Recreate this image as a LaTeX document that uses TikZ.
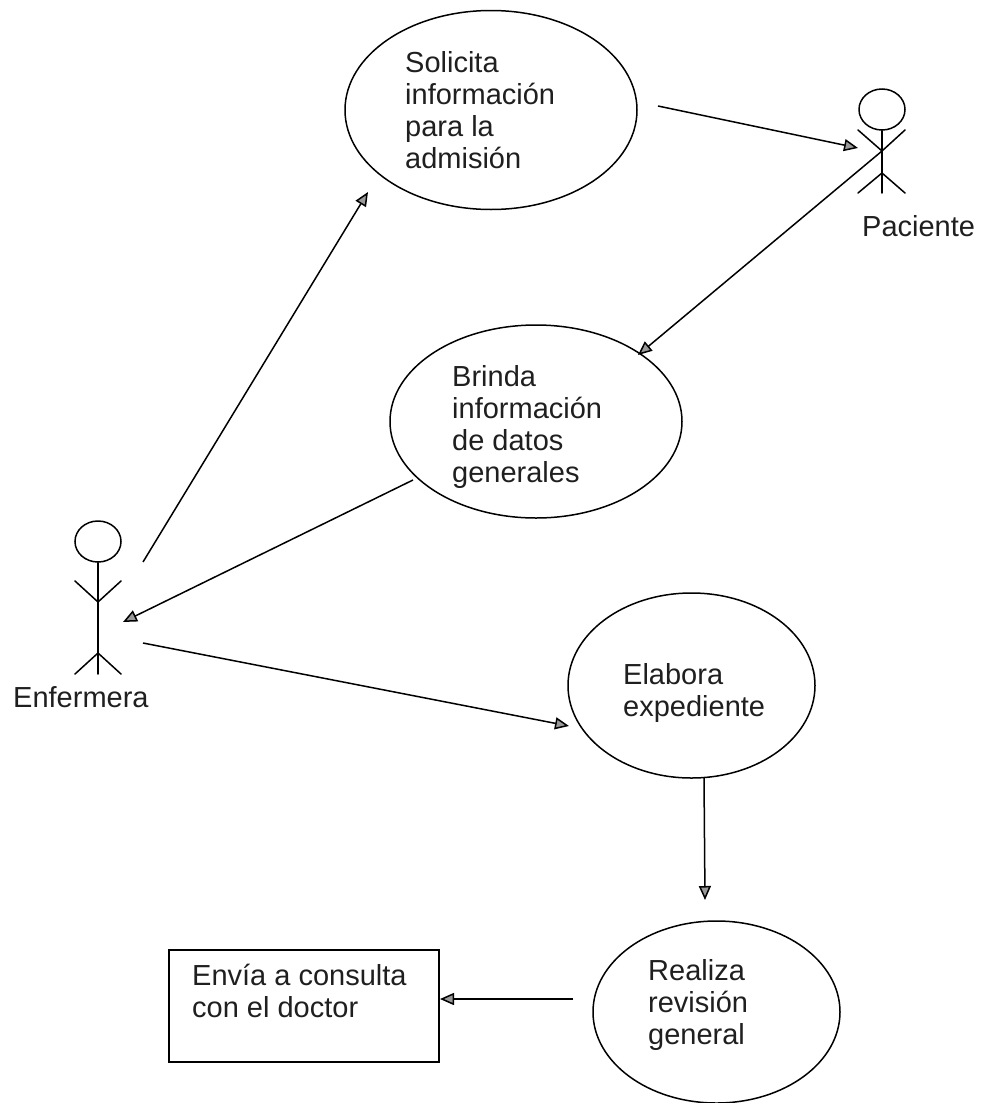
\documentclass[tikz,border=0pt]{standalone}
\usepackage{fontspec}
\setmainfont{Liberation Sans}
\usetikzlibrary{arrows.meta,shapes.geometric}
\tikzset{
  usecase/.style={draw=black,line width=1.5pt,ellipse,inner sep=0pt},
  label text/.style={font=\fontsize{29}{32}\selectfont,align=left,inner sep=0pt,anchor=base west,text=black!88},
  link/.style={line width=1.5pt,-{Triangle[length=14pt,width=12pt,fill=black!40,line width=1.5pt]}},
  figure line/.style={line width=1.5pt,line cap=round}
}
\begin{document}
\begin{tikzpicture}[x=1pt,y=-1pt]
\useasboundingbox (0,0) rectangle (981,1103);
% use-case ellipses
\node[usecase,minimum width=292pt,minimum height=199pt] (solicita) at (491,110) {};
\node[usecase,minimum width=292pt,minimum height=193pt] (brinda) at (536,421.5) {};
\node[usecase,minimum width=247pt,minimum height=185pt] (elabora) at (691.5,685.5) {};
\node[usecase,minimum width=247pt,minimum height=182pt] (realiza) at (716.5,1012) {};
\node[draw=black,line width=1.5pt,minimum width=270pt,minimum height=112pt,inner sep=0pt] (envia) at (304,1006) {};
% texts
\node[label text] (tsol) at (405,168) {Solicita\\información\\para la\\admisión};
\node[label text] (tbri) at (452,482) {Brinda\\información\\de datos\\generales};
\node[label text] (tela) at (623,716) {Elabora\\expediente};
\node[label text] (trea) at (648,1044) {Realiza\\revisión\\general};
\node[label text] (tenv) at (192,1017) {Envía a consulta\\con el doctor};
\node[label text] (tpac) at (862,236) {Paciente};
\node[label text] (tenf) at (13,707) {Enfermera};
% Paciente actor
\node[usecase,minimum width=46pt,minimum height=41pt] (phead) at (882,109.5) {};
\coordinate (pneck) at (882,151);
\coordinate (pfork) at (882,173);
\coordinate (pbase) at (882,193);
\coordinate (parml) at (858,130);
\coordinate (parmr) at (905,130);
\coordinate (pfootl) at (858,193);
\coordinate (pfootr) at (905,193);
\draw[figure line] (phead.south) -- (pbase);
\draw[figure line] (parml) -- (pneck) -- (parmr);
\draw[figure line] (pfootl) -- (pfork) -- (pfootr);
% Enfermera actor
\node[usecase,minimum width=46pt,minimum height=41pt] (ehead) at (98,541.5) {};
\coordinate (eneck) at (98,602);
\coordinate (efork) at (98,653);
\coordinate (ebase) at (98,674);
\coordinate (earml) at (75,581);
\coordinate (earmr) at (121,581);
\coordinate (efootl) at (75,674);
\coordinate (efootr) at (121,674);
\draw[figure line] (ehead.south) -- (ebase);
\draw[figure line] (earml) -- (eneck) -- (earmr);
\draw[figure line] (efootl) -- (efork) -- (efootr);
% connector ends
\coordinate (a1s) at (658,106); \coordinate (a1e) at (858,148);
\coordinate (a2e) at (638,355);
\coordinate (a3s) at (143,562); \coordinate (a3e) at (368,192);
\coordinate (a4s) at (413,480); \coordinate (a4e) at (123,622);
\coordinate (a5s) at (143,643); \coordinate (a5e) at (569,726);
\coordinate (a6s) at (704,778); \coordinate (a6e) at (705,900);
\coordinate (a7s) at (573,999); \coordinate (a7e) at (440,999);
\draw[link] (a1s) -- (a1e);
\draw[link] (pneck) -- (a2e);
\draw[link] (a3s) -- (a3e);
\draw[link] (a4s) -- (a4e);
\draw[link] (a5s) -- (a5e);
\draw[link] (a6s) -- (a6e);
\draw[link] (a7s) -- (a7e);
\end{tikzpicture}
\end{document}
